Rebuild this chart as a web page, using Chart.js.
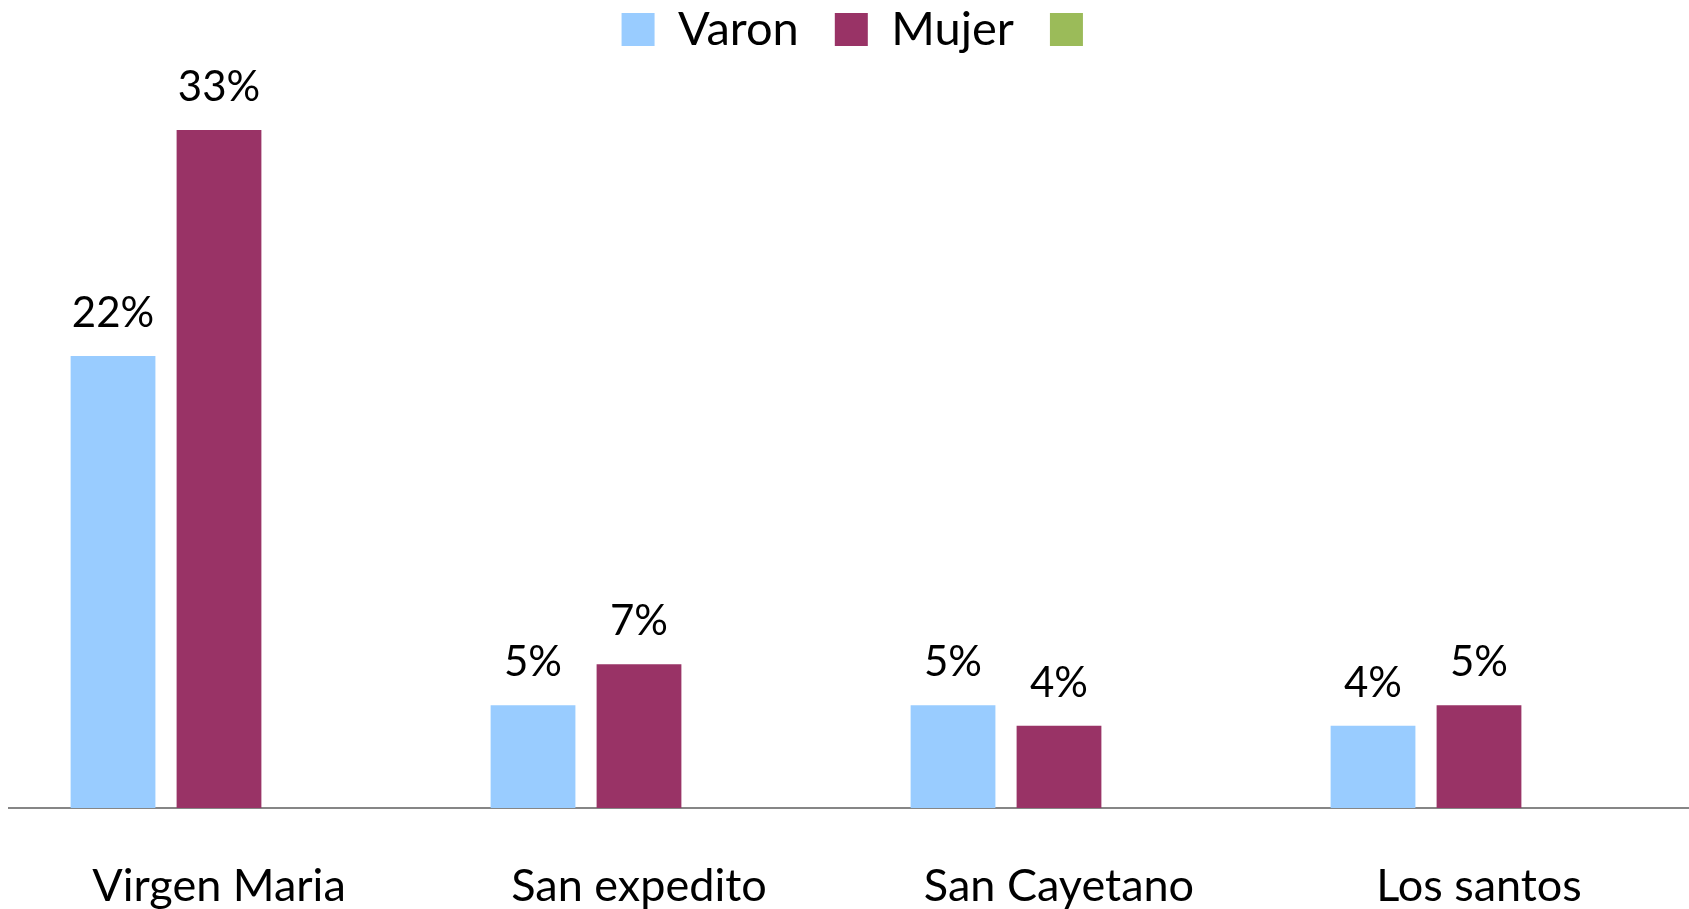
<!DOCTYPE html>
<html>
<head>
<meta charset="utf-8">
<script src="https://cdn.jsdelivr.net/npm/chart.js@4"></script>
<style>
    html, body { margin: 0; padding: 0; background: #fff; }
    #wrap { width: 1689px; height: 909px; position: relative; }
</style>
</head>
<body>
<div id="wrap"><canvas id="santosChart"></canvas></div>
<script>
// Data
const categories = ['Virgen Maria', 'San expedito', 'San Cayetano', 'Los santos'];
const varon = [22, 5, 5, 4];
const mujer = [33, 7, 4, 5];
const tercera = [null, null, null, null];  // green legend entry, no bars

document.addEventListener("DOMContentLoaded", function() {
    Chart.defaults.font.family = 'Lato';
    Chart.defaults.color = '#000';

    // legend height fix so the plot area starts where it does in the picture
    const legendHeight = {
        id: 'legendHeight',
        beforeInit(chart) {
            const origFit = chart.legend.fit;
            chart.legend.fit = function() {
                origFit.call(this);
                this.height = 119;
            };
        },
        afterLayout(chart) {
            // nudge legend items a bit to the right
            chart.legend.left += 15;
            chart.legend.right += 15;
        }
    };

    // value labels over the bars
    const valueLabels = {
        id: 'valueLabels',
        afterDatasetsDraw(chart) {
            const ctx = chart.ctx;
            ctx.save();
            ctx.font = '42px Lato';
            ctx.fillStyle = '#000';
            ctx.textAlign = 'center';
            ctx.textBaseline = 'alphabetic';
            chart.data.datasets.forEach(function(ds, i) {
                const meta = chart.getDatasetMeta(i);
                meta.data.forEach(function(bar, j) {
                    const v = ds.data[j];
                    if (v === null || v === undefined) return;
                    ctx.fillText(v + '%', bar.x, bar.y - 29);
                });
            });
            ctx.restore();
        }
    };

    const ctx = document.getElementById('santosChart').getContext('2d');
    new Chart(ctx, {
        type: 'bar',
        data: {
            labels: categories,
            datasets: [{
                label: 'Varon',
                data: varon,
                backgroundColor: '#99CCFF'
            }, {
                label: 'Mujer',
                data: mujer,
                backgroundColor: '#993366'
            }, {
                label: '',
                data: tercera,
                backgroundColor: '#9BBB59'
            }]
        },
        options: {
            responsive: true,
            maintainAspectRatio: false,
            animation: false,
            categoryPercentage: 0.757,
            barPercentage: 0.80,
            layout: {
                padding: { top: -30, left: 9, right: 0, bottom: -55 }
            },
            plugins: {
                legend: {
                    position: 'top',
                    labels: {
                        boxWidth: 33,
                        boxHeight: 33,
                        padding: 36,
                        font: { size: 47 },
                        color: '#000'
                    }
                },
                tooltip: { enabled: false }
            },
            scales: {
                x: {
                    grid: { display: false, drawTicks: false },
                    border: { display: true, color: '#868686', width: 2 },
                    ticks: { font: { size: 45 }, color: '#000', padding: 51 }
                },
                y: {
                    display: false,
                    min: 0,
                    max: 35
                }
            }
        },
        plugins: [legendHeight, valueLabels]
    });
});
</script>
</body>
</html>
